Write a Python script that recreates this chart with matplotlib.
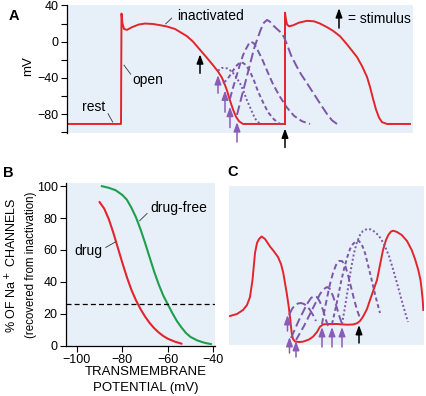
import matplotlib
matplotlib.use("Agg")
import matplotlib.pyplot as plt

plt.rcParams['font.family'] = ['Liberation Sans', 'DejaVu Sans']

RED = '#e3242b'
GREEN = '#1f9e4c'
PURPLE = '#7d55a9'
ARROW_PURPLE = '#8a5cb8'
BG = '#e7f0f9'

# ---- panel A: action potentials (x = time in px units, y = mV)
a_red_x = [0, 54, 54.5, 55.5, 57, 60, 65, 72, 78, 86, 94, 100, 108, 114, 120, 126, 133, 140,
           146, 151, 155, 158, 160, 163, 166, 169, 172, 176, 218]
a_red_y = [-91, -91, 31, 20, 14, 13, 16, 19, 20, 19.5, 18, 16.7, 14, 10, 6, 0, -9, -18,
           -26, -33, -40, -48, -54, -65, -75, -83, -88, -91, -91]
a_red2_x = [218, 218, 219, 220, 222, 226, 232, 240, 247, 253, 260, 266, 273, 280, 285, 290,
            295, 300, 303, 306, 309, 312, 315, 320, 343]
a_red2_y = [-91, 32, 24, 19, 17, 18, 21, 23, 22.5, 20, 16, 12, 6, -3, -10, -17, -27, -39, -50,
            -63, -75, -84, -89, -91, -91]

a_p1_x = [151, 155, 160, 165, 169, 173, 177, 180, 184, 188, 193]
a_p1_y = [-32, -29, -29.5, -33, -39, -46, -56, -65, -75, -85, -91]
a_p2_x = [156, 159, 162, 166, 170, 173, 176, 179, 183, 187, 191, 196, 201, 207, 213]
a_p2_y = [-46, -43, -39, -32, -26, -23, -23.5, -26, -33, -43, -55, -67, -78, -86, -91]
a_p3_x = [163, 166, 169, 173, 176, 179, 182, 184, 187, 190, 195, 200, 206, 213, 220, 227, 235, 243]
a_p3_y = [-63, -51, -40, -25, -15, -8, -2, 0, -2, -8, -19, -32, -47, -61, -73, -82, -88, -91]
a_p4_x = [170, 173, 176, 180, 183, 187, 190, 194, 197, 200, 203, 207, 211, 214, 217, 220, 224,
          229, 234, 240, 247, 254, 260, 265, 270]
a_p4_y = [-81, -68, -55, -38, -25, -8, 2, 14, 21, 24, 22, 17, 13, 10, 5, -3, -15, -26, -36, -46,
          -58, -70, -80, -87, -91]

a_purple_arrow_x = [151, 158, 163, 170]
a_purple_arrow_head = [-37, -54, -72, -89]
a_purple_arrow_tail = [-57, -78, -95, -111]
a_black_arrow_x = [133, 218]
a_black_arrow_head = [-14, -96]
a_black_arrow_tail = [-35, -117]
a_yticks = [40, 0, -40, -80]
a_minor_yticks = [20, -20, -60, -100]

# ---- panel B: recovered Na+ channels vs transmembrane potential
b_drug_v = [-90, -88, -86, -84, -82, -80, -78, -76, -74, -72, -70, -68, -66, -64, -62, -60,
            -57, -54]
b_drug_pct = [90, 86, 79.5, 71, 61.5, 52, 43, 35, 28.5, 23, 18.3, 14.3, 11, 8.3, 6.1, 4.4,
              2.6, 1.3]
b_free_v = [-89, -86, -83, -80, -78, -76, -74, -72, -70, -68, -66, -64, -62, -60, -58, -56,
            -54, -52, -50, -47, -44, -41]
b_free_pct = [100, 99, 97.5, 94.5, 91.5, 86.5, 80.5, 73, 64.5, 55.5, 46.5, 38.5, 31.5, 26,
              20.5, 15.5, 11.5, 8, 5.5, 3.3, 1.9, 1]
b_threshold = 26
b_xticks = [-100, -80, -60, -40]
b_yticks = [0, 20, 40, 60, 80, 100]

# ---- panel C: schematic (x, y in px units)
c_red_x = [1, 8, 14, 18, 21, 23.5, 26, 28, 30, 32.7, 36, 41, 45, 49, 52, 54.3, 56, 57.7,
           59.5, 61, 62.7, 64, 66, 70, 74, 80, 84, 88, 91, 94, 98, 108, 118, 124, 128, 131,
           134, 138, 141, 144.5, 148, 151, 154, 157, 159.3, 162, 164.3, 168, 172.7, 178,
           182.7, 186, 189.3, 191.5, 192.7, 193.7, 194.3]
c_red_y = [29, 31, 35, 40, 48, 65, 92, 102, 106, 108.5, 106, 98.5, 93.5, 88, 81, 72, 62, 52,
           40, 28, 12, 6, 3.5, 3, 3.3, 5.5, 8.3, 13, 18.3, 20.5, 21, 21, 20.3, 20.5, 21.7, 24,
           28.3, 36, 45, 55, 65, 80, 95, 105, 110, 113.5, 114.3, 113, 110, 104, 95, 86, 75, 65,
           55, 45, 35]

c_p1_x = [60, 63, 66, 69, 72, 75, 78, 81, 84, 87]
c_p1_y = [30, 36, 40, 41.5, 42, 41, 39, 35, 30, 24]
c_p2_x = [62, 66, 70, 74, 78, 82, 85, 88, 91, 94, 97, 99]
c_p2_y = [7, 16, 25, 33, 41, 47, 49, 48, 43, 35, 25, 19]
c_p3_x = [67, 71, 75, 79, 83, 87, 91, 95, 98, 101, 104, 107, 110, 113]
c_p3_y = [5, 12, 19, 27, 35, 43, 51, 56, 58, 56, 49, 40, 30, 21]
c_p4_x = [93, 95, 98, 101, 104, 107, 110, 113, 116, 119, 122, 125, 128, 131]
c_p4_y = [21, 32, 47, 61, 72, 80, 84, 84, 80, 70, 58, 46, 35, 27]
c_p5_x = [103, 106, 109, 112, 115, 118, 121, 124, 127, 130, 133, 136, 139, 142, 145, 148, 151]
c_p5_y = [21, 34, 48, 63, 76, 87, 96, 101, 104, 104, 100, 92, 80, 68, 55, 43, 32]
c_p6_x = [113, 116, 119, 122, 125, 128, 131, 134, 138, 142, 146, 150, 155, 160, 164, 168, 172,
          176, 179]
c_p6_y = [21, 38, 57, 76, 92, 103, 110, 114, 116, 115.5, 113, 109, 101, 89, 76, 62, 47, 33, 23]

c_purple_arrow_x = [58.5, 60.5, 67, 93, 103, 113]
c_purple_arrow_head = [30, 8, 4, 18, 18, 18]
c_purple_arrow_tail = [14, -8, -12, -2, -2, -2]
c_black_arrow_x = [130]
c_black_arrow_head = [20]
c_black_arrow_tail = [2]

W, H = 426, 396
fig = plt.figure(figsize=(W / 100, H / 100), dpi=100)


def box(l, t, r, b):
    return [l / W, 1 - b / H, (r - l) / W, (b - t) / H]


def arrow(ax, x, head, tail, color):
    ax.annotate('', xy=(x, head), xytext=(x, tail), annotation_clip=False,
                arrowprops=dict(arrowstyle='-|>,head_length=0.6,head_width=0.22',
                                color=color, lw=1.1, shrinkA=0, shrinkB=0, mutation_scale=9))


def leader(ax, x0, y0, x1, y1):
    ax.plot([x0, x1], [y0, y1], color='#333333', lw=0.6, clip_on=False)


# ---------------- A
axA = fig.add_axes(box(67, 5, 413, 133))
axA.set_facecolor(BG)
axA.set_xlim(0, 346)
axA.set_ylim(-101, 40.5)
for s in ['top', 'right', 'bottom']:
    axA.spines[s].set_visible(False)
axA.spines['left'].set_linewidth(0.9)
axA.set_xticks([])
axA.set_yticks(a_yticks)
axA.set_yticks(a_minor_yticks, minor=True)
axA.tick_params(axis='y', which='both', direction='out', length=4, width=0.8,
                labelsize=9, pad=2)

axA.plot(a_red_x, a_red_y, color=RED, lw=1.4)
axA.plot(a_red2_x, a_red2_y, color=RED, lw=1.4)
axA.plot(a_p1_x, a_p1_y, color=PURPLE, lw=1.4, dashes=(1, 1.2))
axA.plot(a_p2_x, a_p2_y, color=PURPLE, lw=1.4, dashes=(2.2, 1.5))
axA.plot(a_p3_x, a_p3_y, color=PURPLE, lw=1.4, dashes=(3.5, 1.8))
axA.plot(a_p4_x, a_p4_y, color=PURPLE, lw=1.4, dashes=(5, 2))

for x, h, t in zip(a_purple_arrow_x, a_purple_arrow_head, a_purple_arrow_tail):
    arrow(axA, x, h, t, ARROW_PURPLE)
for x, h, t in zip(a_black_arrow_x, a_black_arrow_head, a_black_arrow_tail):
    arrow(axA, x, h, t, 'black')
arrow(axA, 272, 37, 15, 'black')
axA.text(281, 25, '= stimulus', fontsize=10, ha='left', va='center')

axA.text(144, 28.5, 'inactivated', fontsize=10, ha='center', va='center')
leader(axA, 98.7, 19.7, 104.7, 26)
axA.text(81, -42.6, 'open', fontsize=10, ha='center', va='center')
leader(axA, 57, -26, 63.7, -36)
axA.text(27, -72, 'rest', fontsize=10, ha='center', va='center')
leader(axA, 41, -79.6, 45.7, -88.9)

fig.text(14 / W, 1 - 16 / H, 'A', fontsize=10.5, fontweight='bold', ha='center', va='center')
fig.text(28 / W, 1 - 66 / H, 'mV', fontsize=9.5, rotation=90, ha='center', va='center')

# ---------------- B
axB = fig.add_axes(box(66, 183, 215, 345.7))
axB.set_facecolor(BG)
axB.set_xlim(-104.8, -39.2)
axB.set_ylim(0, 102)
for s in ['top', 'right']:
    axB.spines[s].set_visible(False)
axB.spines['left'].set_linewidth(0.9)
axB.spines['bottom'].set_linewidth(0.9)
axB.set_xticks(b_xticks)
axB.set_yticks(b_yticks)
axB.tick_params(direction='out', length=4, width=0.8, labelsize=9, pad=2)

axB.plot(b_free_v, b_free_pct, color=GREEN, lw=1.5)
axB.plot(b_drug_v, b_drug_pct, color=RED, lw=1.5)
axB.axhline(b_threshold, color='black', lw=0.9, dashes=(4, 2.5))
axB.text(-55, 86.4, 'drug-free', fontsize=10, ha='center', va='center')
leader(axB, -72.4, 78.3, -69.1, 82.9)
axB.text(-94.8, 59.5, 'drug', fontsize=10, ha='center', va='center')
leader(axB, -87.3, 61.6, -83, 65.1)

fig.text(8 / W, 1 - 173 / H, 'B', fontsize=10.5, fontweight='bold', ha='center', va='center')
fig.text(12 / W, 1 - 265 / H, '% OF Na$^+$ CHANNELS', fontsize=9, rotation=90,
         ha='center', va='center')
fig.text(31 / W, 1 - 265 / H, '(recovered from inactivation)', fontsize=8.3, rotation=90,
         ha='center', va='center')
fig.text(146 / W, 1 - 372 / H, 'TRANSMEMBRANE', fontsize=9.5, ha='center', va='center')
fig.text(146 / W, 1 - 388 / H, 'POTENTIAL (mV)', fontsize=9.5, ha='center', va='center')

# ---------------- C
axC = fig.add_axes(box(229, 186, 424, 345))
axC.set_facecolor(BG)
axC.set_xlim(0, 195)
axC.set_ylim(0, 159)
for s in axC.spines.values():
    s.set_visible(False)
axC.set_xticks([])
axC.set_yticks([])

axC.plot(c_red_x, c_red_y, color=RED, lw=1.4)
axC.plot(c_p1_x, c_p1_y, color=PURPLE, lw=1.4, dashes=(5, 2))
axC.plot(c_p2_x, c_p2_y, color=PURPLE, lw=1.4, dashes=(4.5, 2))
axC.plot(c_p3_x, c_p3_y, color=PURPLE, lw=1.4, dashes=(4, 2))
axC.plot(c_p4_x, c_p4_y, color=PURPLE, lw=1.4, dashes=(3, 1.8))
axC.plot(c_p5_x, c_p5_y, color=PURPLE, lw=1.4, dashes=(2, 1.5))
axC.plot(c_p6_x, c_p6_y, color=PURPLE, lw=1.4, dashes=(1, 1.2))

for x, h, t in zip(c_purple_arrow_x, c_purple_arrow_head, c_purple_arrow_tail):
    arrow(axC, x, h, t, ARROW_PURPLE)
for x, h, t in zip(c_black_arrow_x, c_black_arrow_head, c_black_arrow_tail):
    arrow(axC, x, h, t, 'black')

fig.text(233 / W, 1 - 172 / H, 'C', fontsize=10.5, fontweight='bold', ha='center', va='center')

fig.savefig('out.png', dpi=100)
